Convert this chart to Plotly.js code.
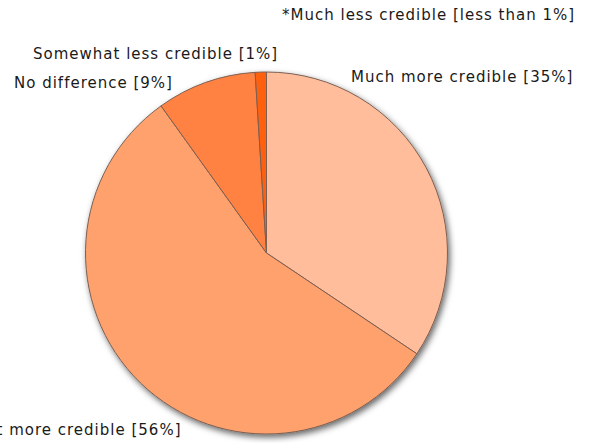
<!DOCTYPE html>
<html>
<head>
<meta charset="utf-8">
<script src="https://cdn.plot.ly/plotly-3.0.1.min.js"></script>
<style>
html,body{margin:0;padding:0;background:#fff;}
#chart{width:597px;height:443px;}
.annotation-text{letter-spacing:1px;}
</style>
</head>
<body>
<div id="chart"></div>
<script>
const categories = ["Much more credible", "Somewhat more credible", "No difference", "Somewhat less credible"];
const values = [34.4, 55.7, 8.9, 1.0];
const labelTexts = ["Much more credible [35%]", "Somewhat more credible [56%]", "No difference [9%]", "Somewhat less credible [1%]"];
const footnote = "*Much less credible [less than 1%]";
const colors = ["#FFBD9B", "#FFA16D", "#FF8242", "#FF6010"];

const W = 597, H = 443;
const cx = 266.5, cy = 253, r = 181;
const px = x => x / W, py = y => 1 - y / H;

// label placement in pixels: [x, y, xanchor]
const labelPos = [[349, 77, "left"], [184, 430, "right"], [12, 83, "left"], [31, 54, "left"]];

const font = {family: "DejaVu Sans, Verdana, sans-serif", size: 15, color: "#1a1a1a"};

const annotations = labelTexts.map((t, i) => ({
  text: t, xref: "paper", yref: "paper",
  x: px(labelPos[i][0]), y: py(labelPos[i][1]),
  xanchor: labelPos[i][2], yanchor: "middle",
  showarrow: false, font: font
}));
annotations.push({
  text: footnote, xref: "paper", yref: "paper",
  x: px(280), y: py(15), xanchor: "left", yanchor: "middle",
  showarrow: false, font: font
});

const trace = {
  type: "pie",
  labels: categories,
  values: values,
  sort: false,
  direction: "clockwise",
  rotation: 0,
  textinfo: "none",
  hoverinfo: "label+percent",
  marker: {colors: colors, line: {color: "#7d5f52", width: 1}},
  domain: {x: [px(cx - r), px(cx + r)], y: [py(cy + r), py(cy - r)]},
  showlegend: false
};

const layout = {
  width: W, height: H,
  margin: {l: 0, r: 0, t: 0, b: 0},
  paper_bgcolor: "#fff",
  showlegend: false,
  annotations: annotations
};

Plotly.newPlot("chart", [trace], layout, {displayModeBar: false, staticPlot: true}).then(() => {
  const svg = document.querySelector("#chart .main-svg");
  const ns = "http://www.w3.org/2000/svg";
  let defs = svg.querySelector("defs");
  if (!defs) { defs = document.createElementNS(ns, "defs"); svg.insertBefore(defs, svg.firstChild); }
  const f = document.createElementNS(ns, "filter");
  f.setAttribute("id", "pieShadow");
  f.setAttribute("x", "-20%"); f.setAttribute("y", "-20%");
  f.setAttribute("width", "140%"); f.setAttribute("height", "140%");
  const ds = document.createElementNS(ns, "feDropShadow");
  ds.setAttribute("dx", "2"); ds.setAttribute("dy", "3");
  ds.setAttribute("stdDeviation", "3");
  ds.setAttribute("flood-color", "#000"); ds.setAttribute("flood-opacity", "0.6");
  f.appendChild(ds);
  defs.appendChild(f);
  document.querySelectorAll("#chart .pielayer .trace").forEach(g => g.setAttribute("filter", "url(#pieShadow)"));
});
</script>
</body>
</html>
